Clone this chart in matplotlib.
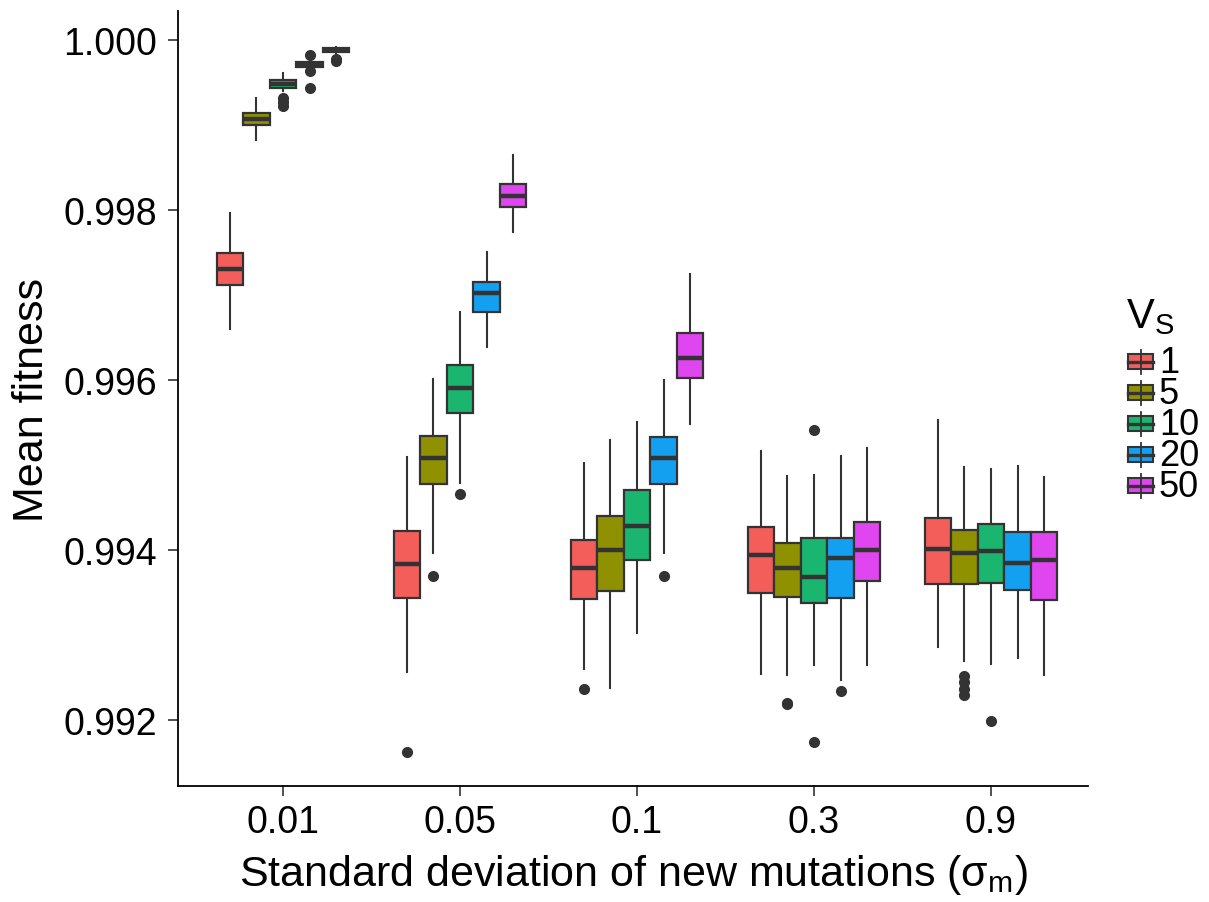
import matplotlib
matplotlib.use("Agg")
import matplotlib.pyplot as plt
from matplotlib.patches import Rectangle

plt.rcParams["font.family"] = ["Liberation Sans", "DejaVu Sans"]
plt.rcParams["mathtext.fontset"] = "custom"
plt.rcParams["mathtext.rm"] = "Liberation Sans"

# ── DATA ──────────────────────────────────────────────────────────────────────
sigma_labels = ["0.01", "0.05", "0.1", "0.3", "0.9"]
vs_levels    = ["1", "5", "10", "20", "50"]
vs_colors    = ["#F35E5A", "#8F9100", "#1AB56E", "#14A0F0", "#E046EF"]

# rows: sigma_m groups, columns: Vs levels
medians = [
    [0.997306, 0.999071, 0.999482, 0.999718, 0.999882],
    [0.993839, 0.995078, 0.995909, 0.997024, 0.998161],
    [0.993788, 0.993996, 0.994279, 0.995078, 0.996255],
    [0.993941, 0.993784, 0.993686, 0.993902, 0.994004],
    [0.994008, 0.993961, 0.993992, 0.993843, 0.993882],
]
q1 = [
    [0.997121, 0.999000, 0.999435, 0.999686, 0.999855],
    [0.993435, 0.994773, 0.995608, 0.996796, 0.998039],
    [0.993427, 0.993521, 0.993886, 0.994773, 0.996027],
    [0.993490, 0.993443, 0.993380, 0.993432, 0.993639],
    [0.993600, 0.993600, 0.993608, 0.993529, 0.993408],
]
q3 = [
    [0.997491, 0.999141, 0.999529, 0.999745, 0.999902],
    [0.994227, 0.995337, 0.996176, 0.997157, 0.998306],
    [0.994114, 0.994396, 0.994702, 0.995333, 0.996553],
    [0.994267, 0.994079, 0.994138, 0.994138, 0.994333],
    [0.994380, 0.994239, 0.994306, 0.994208, 0.994215],
]
whisker_lo = [
    [0.996600, 0.998827, 0.999400, 0.999665, 0.999840],
    [0.992561, 0.993965, 0.994785, 0.996392, 0.997745],
    [0.992600, 0.992373, 0.993020, 0.993965, 0.995479],
    [0.992538, 0.992529, 0.992651, 0.992474, 0.992651],
    [0.992855, 0.992690, 0.992659, 0.992726, 0.992526],
]
whisker_hi = [
    [0.997965, 0.999318, 0.999608, 0.999765, 0.999915],
    [0.995091, 0.996012, 0.996796, 0.997502, 0.998647],
    [0.995027, 0.995290, 0.995509, 0.996004, 0.997243],
    [0.995165, 0.994874, 0.994886, 0.995109, 0.995196],
    [0.995529, 0.994973, 0.994957, 0.994992, 0.994862],
]
outliers = [
    [[], [], [0.999318, 0.999271, 0.999224], [0.999824, 0.999632, 0.999435], [0.999776, 0.999753]],
    [[0.991620], [0.993690], [0.994659], [], []],
    [[0.992365], [], [], [0.993690], []],
    [[], [0.992185, 0.992200], [0.995415, 0.991745], [0.992338], []],
    [[], [0.992518, 0.992447, 0.992365, 0.992294], [0.991992], [], []],
]

y_ticks = [0.992, 0.994, 0.996, 0.998, 1.000]

# ── PLOT ──────────────────────────────────────────────────────────────────────
W, H = 1209, 903
fig = plt.figure(figsize=(W / 100, H / 100), dpi=100)
ax = fig.add_axes([178 / W, 1 - 787 / H, (1088 - 178) / W, (787 - 12) / H])

INK = "#333333"
box_w = 0.15
offsets = [-0.3, -0.15, 0.0, 0.15, 0.3]

for j, (lvl, col) in enumerate(zip(vs_levels, vs_colors)):
    stats, pos = [], []
    for i in range(len(sigma_labels)):
        stats.append(dict(med=medians[i][j], q1=q1[i][j], q3=q3[i][j],
                          whislo=whisker_lo[i][j], whishi=whisker_hi[i][j],
                          fliers=outliers[i][j], label=lvl))
        pos.append(i + offsets[j])
    ax.bxp(stats, positions=pos, widths=box_w, patch_artist=True,
           showcaps=False, manage_ticks=False,
           boxprops=dict(facecolor=col, edgecolor=INK, linewidth=1.6),
           whiskerprops=dict(color=INK, linewidth=1.5),
           medianprops=dict(color=INK, linewidth=3.2, solid_capstyle="butt"),
           flierprops=dict(marker="o", markerfacecolor=INK, markeredgecolor=INK,
                           markersize=7))

ax.set_xlim(-0.593, 4.548)
ax.set_ylim(0.991224, 1.000341)
ax.set_xticks(range(len(sigma_labels)))
ax.set_xticklabels(sigma_labels)
ax.set_yticks(y_ticks)
ax.set_yticklabels([f"{t:.3f}" for t in y_ticks])

for side in ["top", "right"]:
    ax.spines[side].set_visible(False)
for side in ["left", "bottom"]:
    ax.spines[side].set_linewidth(1.3)
    ax.spines[side].set_color("black")
ax.tick_params(axis="both", length=7, width=1.2, color=INK, labelsize=27,
               labelcolor="black")
ax.tick_params(axis="y", pad=8)
ax.tick_params(axis="x", pad=6)

ax.set_ylabel("Mean fitness", fontsize=31, va="center")
ax.yaxis.set_label_coords((32 - 178) / 910, 0.5)
ax.set_xlabel("Standard deviation of new mutations (σ$_{\\mathregular{m}}$)",
              fontsize=31, va="center")
ax.xaxis.set_label_coords(0.5, (787 - 875) / 775)

# ── LEGEND (boxplot keys drawn in pixel units) ────────────────────────────────
lax = fig.add_axes([0, 0, 1, 1], facecolor="none")
lax.set_xlim(0, W)
lax.set_ylim(H, 0)
lax.axis("off")
lax.text(1126, 317, "V$_{\\mathregular{S}}$", fontsize=30, ha="left", va="center")
for k, (lvl, col) in enumerate(zip(vs_levels, vs_colors)):
    cy = 362.5 + 31 * k
    lax.plot([1140.5, 1140.5], [cy - 12, cy + 12], color=INK, lw=1.3)
    lax.add_patch(Rectangle((1128, cy - 7.5), 25, 15, facecolor=col,
                            edgecolor=INK, lw=1.5))
    lax.plot([1128, 1153], [cy, cy], color=INK, lw=2.4)
    lax.text(1159, cy + 1, lvl, fontsize=26, ha="left", va="center")

fig.savefig("out.png", dpi=100)
